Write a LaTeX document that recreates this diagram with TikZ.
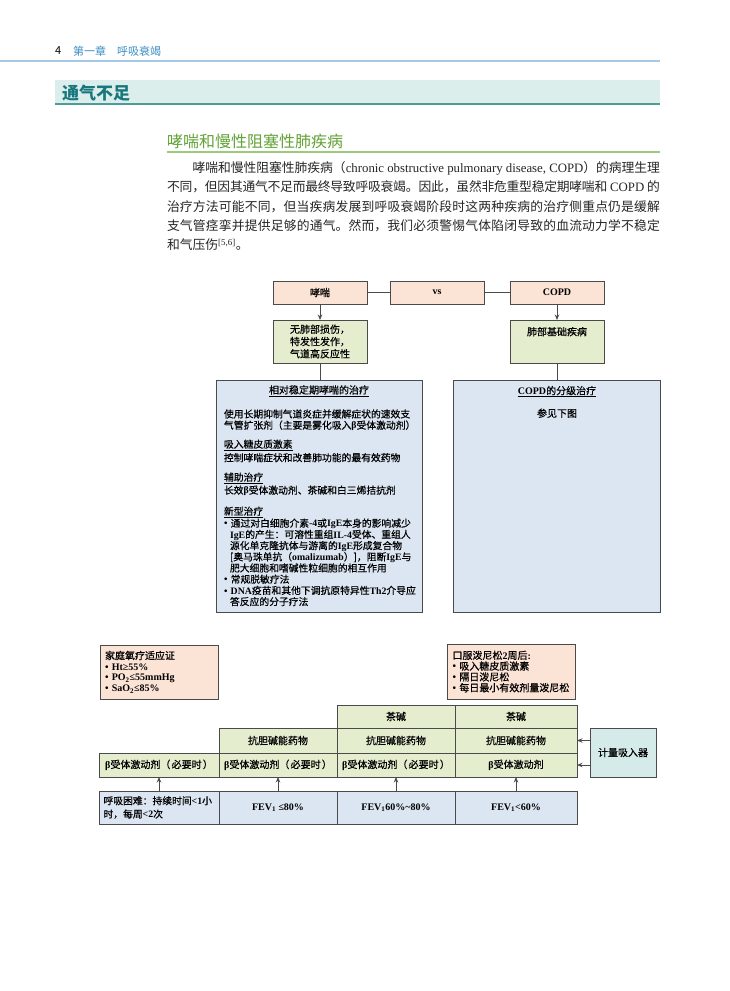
\documentclass[tikz,border=0pt]{standalone}
\usepackage{fontspec}
\setmainfont{Noto Sans CJK SC}
\newfontfamily\lat{Liberation Serif}
\newfontfamily\dia{Noto Sans CJK SC}[FakeBold=0.45]
\newcommand\dl{\lat\bfseries}
\usetikzlibrary{arrows.meta,positioning}

\definecolor{headblue}{HTML}{3A8DC2}
\definecolor{headrule}{HTML}{A5C8E4}
\definecolor{bandfill}{HTML}{DCEEEB}
\definecolor{bandrule}{HTML}{4E9C98}
\definecolor{bandtext}{HTML}{17777D}
\definecolor{subgreen}{HTML}{62A236}
\definecolor{subrule}{HTML}{9DCB7C}
\definecolor{boxline}{HTML}{4A4A4A}
\definecolor{pinkfill}{HTML}{FBE3D6}
\definecolor{greenfill}{HTML}{E5EDCF}
\definecolor{bluefill}{HTML}{DCE6F2}
\definecolor{tealfill}{HTML}{D4EBE9}

\begin{document}
\begin{tikzpicture}[
    x=1pt, y=-1pt,
    txt/.style={inner sep=0pt, outer sep=0pt},
    box/.style={draw=boxline, line width=1pt, anchor=north west, inner sep=0pt, outer sep=0pt, align=center, font=\dia\fontsize{10}{12}\selectfont},
    pinkbox/.style={box, fill=pinkfill},
    greenbox/.style={box, fill=greenfill},
    bluebox/.style={box, fill=bluefill},
    tealbox/.style={box, fill=tealfill},
    listbox/.style={align=left, inner ysep=0pt, font=\dia\fontsize{10}{10.8}\selectfont},
    link/.style={draw=boxline, line width=1pt},
    arrow/.style={link, -{Stealth[length=5.5pt, width=4.5pt]}}
]
\fill[white] (0,0) rectangle (730,991);
\useasboundingbox (0,0) rectangle (730,991);

% running head and section titles
\node[txt, anchor=west, font=\fontsize{11}{13}\selectfont] (pagenum) at (55,51) {4};
\node[txt, anchor=west, font=\fontsize{11}{13}\selectfont, text=headblue] (chapter) at (73,51) {第一章\hspace{11pt}呼吸衰竭};
\draw[headrule, line width=2pt] (0,61) -- (660,61);
\fill[bandfill] (55,80) rectangle (660,105);
\draw[bandrule, line width=1.6pt] (55,104.2) -- (660,104.2);
\node[txt, anchor=west, font=\fontsize{17}{20}\selectfont\bfseries, text=bandtext] (section) at (62,93) {通气不足};
\node[txt, anchor=west, font=\fontsize{16}{19}\selectfont, text=subgreen] (subsection) at (167,141) {哮喘和慢性阻塞性肺疾病};
\draw[subrule, line width=1.2pt] (167,152) -- (660,152);

\node[txt, anchor=base west, text width=493pt, align=justify, text=black!85,
      font={\fontsize{12.8}{19.3}\selectfont\XeTeXlinebreaklocale "zh"\XeTeXlinebreakskip=0pt plus 3pt minus 0.8pt\tolerance=9999}] (intro) at (167,172.6) {%
\hspace*{25.6pt}哮喘和慢性阻塞性肺疾病（{\lat chronic obstructive pulmonary disease, COPD}）的病理生理\linebreak
不同，但因其通气不足而最终导致呼吸衰竭。因此，虽然非危重型稳定期哮喘和{\lat\ COPD\ }的\linebreak
治疗方法可能不同，但当疾病发展到呼吸衰竭阶段时这两种疾病的治疗侧重点仍是缓解\linebreak
支气管痉挛并提供足够的通气。然而，我们必须警惕气体陷闭导致的血流动力学不稳定\linebreak
和气压伤{\lat\textsuperscript{[5,6]}}。};

% asthma vs COPD
\node[pinkbox, minimum width=94pt, minimum height=23pt] (asthma) at (273,281) {哮喘};
\node[pinkbox, minimum width=94pt, minimum height=23pt] (vs) at (390,281) {\dl vs};
\node[pinkbox, minimum width=94pt, minimum height=23pt] (copd) at (510,281) {\dl COPD};
\node[greenbox, align=left, minimum width=94pt, minimum height=43pt, font=\dia\fontsize{10}{12.3}\selectfont] (asthmafeat) at (273,320) {无肺部损伤，\\特发性发作，\\气道高反应性};
\node[greenbox, minimum width=94pt, minimum height=43pt] (copdfeat) at (510,320) {};
\node[txt, font=\dia\fontsize{10}{12}\selectfont, below=7pt of copdfeat.north] (copdfeattext) {肺部基础疾病};
\node[bluebox, minimum width=206pt, minimum height=232pt] (asthmatx) at (216,380) {};
\node[bluebox, minimum width=207pt, minimum height=232pt] (copdtx) at (453,380) {};

\node[txt, anchor=base, font=\dia\fontsize{10}{12}\selectfont] (asthmahead) at (319,393.7) {\underline{相对稳定期哮喘的治疗}};
\node[txt, anchor=base west, text width=200pt, align=left, font=\dia\fontsize{9.8}{11.2}\selectfont] (asthmabody) at (224,417.7) {%
使用长期抑制气道炎症并缓解症状的速效支\\
气管扩张剂（主要是雾化吸入{\dl β}受体激动剂）\\[7.8pt]
\underline{吸入糖皮质激素}\\[2.3pt]
控制哮喘症状和改善肺功能的最有效药物\\[8.3pt]
\underline{辅助治疗}\\[1.8pt]
长效{\dl β}受体激动剂、茶碱和白三烯拮抗剂\\[9.8pt]
\underline{新型治疗}\\[0.8pt]
{\dl •}~通过对白细胞介素{\dl -4}或{\dl IgE}本身的影响减少\\
\hspace*{6pt}{\dl IgE}的产生：可溶性重组{\dl IL-4}受体、重组人\\
\hspace*{6pt}源化单克隆抗体与游离的{\dl IgE}形成复合物\\
\hspace*{6pt}[奥马珠单抗（{\dl omalizumab}）]，阻断{\dl IgE}与\\
\hspace*{6pt}肥大细胞和嗜碱性粒细胞的相互作用\\
{\dl •}~常规脱敏疗法\\
{\dl •}~{\dl DNA}疫苗和其他下调抗原特异性{\dl Th2}介导应\\
\hspace*{6pt}答反应的分子疗法};
\node[txt, anchor=base, font=\dia\fontsize{10}{12}\selectfont] (copdhead) at (557,394.4) {\underline{{\dl COPD}的分级治疗}};
\node[txt, anchor=base, font=\dia\fontsize{10}{12}\selectfont] (copdsee) at (557,417) {参见下图};

\draw[link] (asthma) -- (vs);
\draw[link] (vs) -- (copd);
\draw[arrow] (asthma) -- (asthmafeat);
\draw[arrow] (copd) -- (copdfeat);
\draw[link] (asthmafeat.south) -- (asthmafeat.south |- asthmatx.north);
\draw[link] (copdfeat.south) -- (copdfeat.south |- copdtx.north);

% stepwise COPD treatment
\node[pinkbox, listbox, text width=108pt, inner xsep=5pt, minimum height=54pt] (homeoxy) at (100,645) {家庭氧疗适应证\\{\dl •~Ht≥55\%}\\{\dl •~PO\textsubscript{2}≤55mmHg}\\{\dl •~SaO\textsubscript{2}≤85\%}};
\node[pinkbox, listbox, text width=117pt, inner xsep=5.5pt, minimum height=55pt] (oralpred) at (447,644) {口服泼尼松{\dl 2}周后{\dl :}\\{\dl •}~吸入糖皮质激素\\{\dl •}~隔日泼尼松\\{\dl •}~每日最小有效剂量泼尼松};

\node[greenbox, minimum width=118pt, minimum height=23pt] (theo3) at (337,705) {茶碱};
\node[greenbox, minimum width=122pt, minimum height=23pt] (theo4) at (455,705) {茶碱};
\node[greenbox, minimum width=118pt, minimum height=25pt] (anti2) at (219,728) {抗胆碱能药物};
\node[greenbox, minimum width=118pt, minimum height=25pt] (anti3) at (337,728) {抗胆碱能药物};
\node[greenbox, minimum width=122pt, minimum height=25pt] (anti4) at (455,728) {抗胆碱能药物};
\node[greenbox, minimum width=120pt, minimum height=24pt] (beta1) at (99,753) {{\dl β}受体激动剂（\hspace{1.2pt}必要时\hspace{1.2pt}）};
\node[greenbox, minimum width=118pt, minimum height=24pt] (beta2) at (219,753) {{\dl β}受体激动剂（\hspace{1.2pt}必要时\hspace{1.2pt}）};
\node[greenbox, minimum width=118pt, minimum height=24pt] (beta3) at (337,753) {{\dl β}受体激动剂（\hspace{1.2pt}必要时\hspace{1.2pt}）};
\node[greenbox, minimum width=122pt, minimum height=24pt] (beta4) at (455,753) {{\dl β}受体激动剂};
\node[tealbox, minimum width=66pt, minimum height=49pt] (inhaler) at (590,728) {计量吸入器};

\node[bluebox, listbox, text width=111pt, inner xsep=4.5pt, minimum height=33pt, font=\dia\fontsize{9.8}{13.3}\selectfont] (dyspnea) at (99,791) {呼吸困难：持续时间{\dl <1}小\\时，每周{\dl <2}次};
\node[bluebox, minimum width=118pt, minimum height=33pt] (fev80) at (219,791) {\dl FEV\textsubscript{1} ≤80\%};
\node[bluebox, minimum width=118pt, minimum height=33pt] (fev6080) at (337,791) {\dl FEV\textsubscript{1}60\%\textasciitilde80\%};
\node[bluebox, minimum width=122pt, minimum height=33pt] (fev60) at (455,791) {\dl FEV\textsubscript{1}<60\%};

\draw[arrow] (dyspnea) -- (beta1);
\draw[arrow] (fev80) -- (beta2);
\draw[arrow] (fev6080) -- (beta3);
\draw[arrow] (fev60) -- (beta4);
\draw[arrow] (inhaler.west |- anti4.east) -- (anti4.east);
\draw[arrow] (inhaler.west |- beta4.east) -- (beta4.east);
\end{tikzpicture}
\end{document}
